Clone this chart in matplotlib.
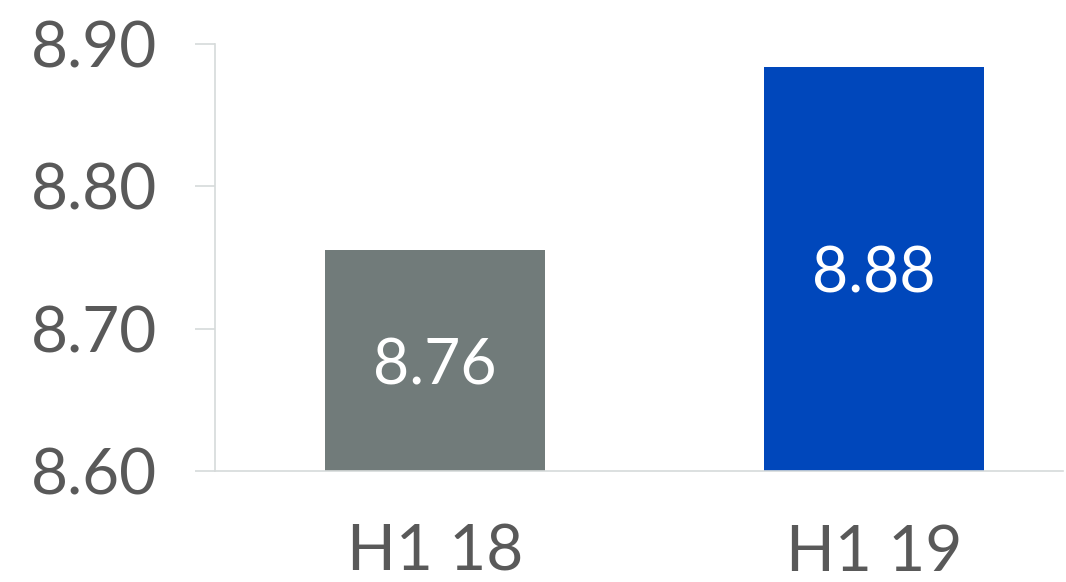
import matplotlib.pyplot as plt
import matplotlib

matplotlib.rcParams.update({
    'font.family': 'Lato',
    'figure.dpi': 100,
})

# Data
periods = ['H1 18', 'H1 19']
values = [8.755, 8.884]
labels = ['8.76', '8.88']
bar_colors = ['#717B7A', '#0047BB']
yticks = [8.60, 8.70, 8.80, 8.90]

text_color = '#595959'
line_color = '#D6DADA'

fig = plt.figure(figsize=(10.66, 5.82))
ax = fig.add_axes([215 / 1066, 1 - 471 / 582, (1063 - 215) / 1066, (471 - 44) / 582])

x = range(len(periods))
bars = ax.bar(x, values, width=0.5, color=bar_colors, zorder=2)

for bar, lab in zip(bars, labels):
    mid = (bar.get_height() + 8.60) / 2
    ax.text(bar.get_x() + bar.get_width() / 2, mid, lab,
            ha='center', va='center_baseline', color='white', fontsize=45)

ax.set_ylim(8.60, 8.90)
ax.set_xlim(-0.5, 1.43)
ax.set_yticks(yticks)
ax.set_yticklabels([f'{t:.2f}' for t in yticks])
ax.set_xticks(list(x))
ax.set_xticklabels(periods)

ax.tick_params(axis='y', colors=line_color, labelcolor=text_color, labelsize=46,
               length=14.4, width=1.2, pad=27)
ax.tick_params(axis='x', length=0, labelcolor=text_color, labelsize=46, pad=38)

for s in ['top', 'right']:
    ax.spines[s].set_visible(False)
ax.spines['left'].set_color(line_color)
ax.spines['bottom'].set_color(line_color)
ax.spines['left'].set_linewidth(1.2)
ax.spines['bottom'].set_linewidth(1.2)

fig.savefig('out.png', dpi=100)
